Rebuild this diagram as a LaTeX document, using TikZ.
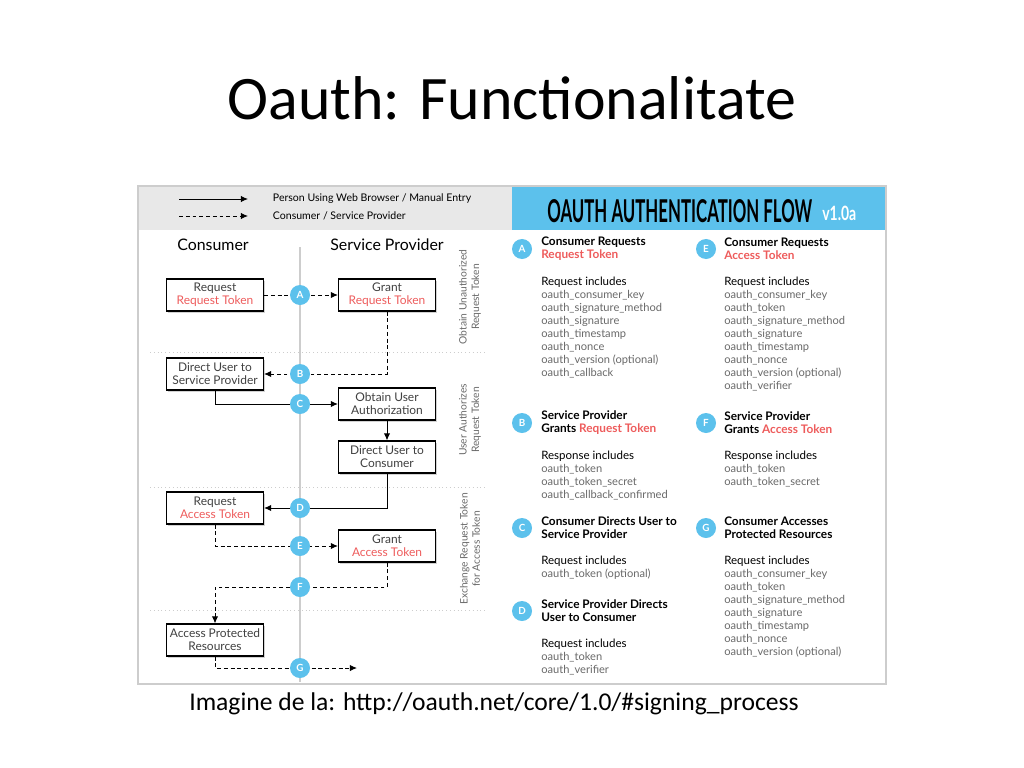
\documentclass[tikz,border=0pt]{standalone}
\usepackage{fontspec}
\setmainfont{Carlito}
\newfontfamily\flowfont{Lato}
\usetikzlibrary{positioning,shadows,arrows.meta}
\definecolor{tokred}{RGB}{238,92,92}
\definecolor{flowblue}{RGB}{92,193,236}
\definecolor{bandgray}{RGB}{232,232,232}
\definecolor{listgray}{RGB}{105,105,105}
\definecolor{framegray}{RGB}{205,205,205}
\tikzset{
  stepbox/.style={draw,line width=0.8pt,fill=white,minimum width=2.425cm,minimum height=0.8cm,inner sep=1pt,align=center,
    text=black!75,font=\flowfont\fontsize{8.5}{9.3}\selectfont,drop shadow={opacity=0.35,shadow xshift=1pt,shadow yshift=-1.5pt}},
  letter/.style={circle,fill=flowblue,text=white,minimum size=0.5cm,inner sep=0pt,font=\flowfont\bfseries\fontsize{7}{7}\selectfont},
  flow/.style={-{Latex[length=5pt,width=4.5pt]},line width=0.7pt},
  dflow/.style={flow,dash pattern=on 2.8pt off 2pt},
  sidenote/.style={rotate=90,align=center,text=listgray,font=\flowfont\fontsize{7.3}{8.8}\selectfont},
  head/.style={anchor=west,align=left,inner sep=0pt,font=\flowfont\bfseries\fontsize{8.4}{9.3}\selectfont},
  sub/.style={anchor=west,inner sep=0pt,font=\flowfont\fontsize{8.2}{9.3}\selectfont},
  item/.style={anchor=west,inner sep=0pt,text=listgray,font=\flowfont\fontsize{7.9}{9.3}\selectfont},
}
\begin{document}
\begin{tikzpicture}[x=0.025cm,y=-0.025cm]
\useasboundingbox[fill=white](0,0)rectangle(1024,768);
\node[font=\fontsize{44}{50}\selectfont](title)at(512,98){Oauth: Functionalitate};
\node[font=\fontsize{18.2}{21}\selectfont](source)at(494,704){Imagine de la: http://oauth.net/core/1.0/\#signing\_process};
% frame, legend band and header
\fill[bandgray](138,186)rectangle(512,230);
\fill[flowblue](512,186)rectangle(886,230);
\draw[framegray,line width=0.8pt](138,186)rectangle(886,684);
\node[anchor=base west,inner sep=0pt,font=\flowfont\bfseries](flowtitle)at(547,222){\resizebox{6.62cm}{0.575cm}{OAUTH AUTHENTICATION FLOW}};
\node[anchor=base west,inner sep=0pt,text=white,font=\flowfont\bfseries](version)at(822,220){\resizebox{0.85cm}{0.36cm}{v1.0a}};
\coordinate(lega)at(179,199);\coordinate(legb)at(248,199);
\coordinate(legc)at(179,216);\coordinate(legd)at(248,216);
\draw[flow](lega)--(legb);
\draw[dflow](legc)--(legd);
\node[anchor=west,font=\flowfont\fontsize{7.5}{9}\selectfont](legsolid)at(268,199){Person Using Web Browser / Manual Entry};
\node[anchor=west,font=\flowfont\fontsize{7.5}{9}\selectfont](legdash)at(268,216){Consumer / Service Provider};
% left: the flow
\node[font=\flowfont\fontsize{11.3}{13}\selectfont](consumer)at(213,245){Consumer};
\node[font=\flowfont\fontsize{11.3}{13}\selectfont](provider)at(387,245){Service Provider};
\draw[framegray,line width=1.2pt](300,247)--(300,682);
\foreach \y in {352,487,610}
  \draw[framegray,dotted,line width=0.7pt](150,\y)--(485,\y);
\node[sidenote](noteA)at(470,297){Obtain Unauthorized\\Request Token};
\node[sidenote](noteB)at(470,420){User Authorizes\\Request Token};
\node[sidenote](noteC)at(470,549){Exchange Request Token\\for Access Token};
\node[stepbox](reqrt)at(215,295){Request\\\textcolor{tokred}{Request Token}};
\node[stepbox](grantrt)at(387,295){Grant\\\textcolor{tokred}{Request Token}};
\node[stepbox](dirsp)at(215,374){Direct User to\\Service Provider};
\node[stepbox](obtain)at(387,404){Obtain User\\Authorization};
\node[stepbox](dircons)at(387,457){Direct User to\\Consumer};
\node[stepbox](reqat)at(215,508){Request\\\textcolor{tokred}{Access Token}};
\node[stepbox](grantat)at(387,546){Grant\\\textcolor{tokred}{Access Token}};
\node[stepbox](access)at(215,640){Access Protected\\Resources};
\coordinate(fturn)at(387,587);
\coordinate(gend)at(357,668);
\draw[dflow](reqrt)--(grantrt);
\draw[dflow](grantrt.south)|-(dirsp.east);
\draw[flow](dirsp.south)|-(obtain.west);
\draw[flow](obtain)--(dircons);
\draw[flow](dircons.south)|-(reqat.east);
\draw[dflow](reqat.south)|-(grantat.west);
\draw[dflow](grantat.south)--(fturn)-|(access.north);
\draw[dflow](access.south)|-(gend);
\foreach \l/\y in {A/295,B/374,C/404,D/508,E/546,F/587,G/668}
  \node[letter](step\l)at(300,\y){\l};
% right: what each step carries
\foreach \l/\x/\y in {A/522/249,E/706/249,B/522/423,F/706/423,C/522/528,G/706/528,D/522/611}
  \node[letter](key\l)at(\x,\y){\l};
\node[head](headA)at(541,249){Consumer Requests\\\textcolor{tokred}{Request Token}};
\node[head](headE)at(724,249){Consumer Requests\\\textcolor{tokred}{Access Token}};
\node[head](headB)at(541,423){Service Provider\\Grants \textcolor{tokred}{Request Token}};
\node[head](headF)at(724,423){Service Provider\\Grants \textcolor{tokred}{Access Token}};
\node[head](headC)at(541,528){Consumer Directs User to\\Service Provider};
\node[head](headG)at(724,528){Consumer Accesses\\Protected Resources};
\node[head](headD)at(541,611){Service Provider Directs\\User to Consumer};
\foreach \x/\y/\t in {541/282/Request,724/282/Request,541/456/Response,724/456/Response,541/561/Request,724/561/Request,541/644/Request}
  \node[sub]at(\x,\y){\t{} includes};
\foreach \t [count=\i] in {oauth\_consumer\_key,oauth\_signature\_method,oauth\_signature,oauth\_timestamp,oauth\_nonce,oauth\_version (optional),oauth\_callback}
  \node[item]at(541,282+13*\i){\t};
\foreach \t [count=\i] in {oauth\_consumer\_key,oauth\_token,oauth\_signature\_method,oauth\_signature,oauth\_timestamp,oauth\_nonce,oauth\_version (optional),oauth\_verifier}
  \node[item]at(724,282+13*\i){\t};
\foreach \t [count=\i] in {oauth\_token,oauth\_token\_secret,oauth\_callback\_confirmed}
  \node[item]at(541,456+13*\i){\t};
\foreach \t [count=\i] in {oauth\_token,oauth\_token\_secret}
  \node[item]at(724,456+13*\i){\t};
\node[item]at(541,574){oauth\_token (optional)};
\foreach \t [count=\i] in {oauth\_consumer\_key,oauth\_token,oauth\_signature\_method,oauth\_signature,oauth\_timestamp,oauth\_nonce,oauth\_version (optional)}
  \node[item]at(724,561+13*\i){\t};
\foreach \t [count=\i] in {oauth\_token,oauth\_verifier}
  \node[item]at(541,644+13*\i){\t};
\end{tikzpicture}
\end{document}
